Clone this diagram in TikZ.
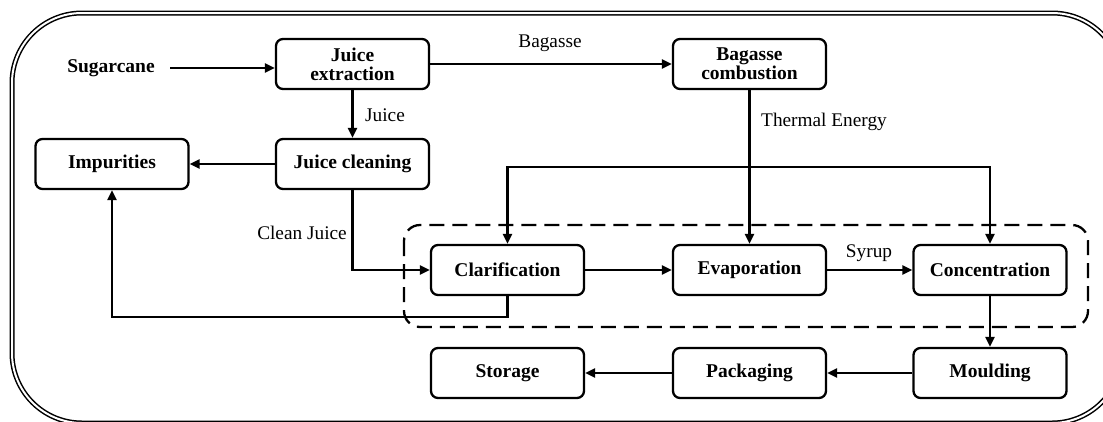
\documentclass[tikz,border=0pt]{standalone}
\usepackage{fontspec}
\setmainfont{Liberation Serif}
\usetikzlibrary{arrows.meta}
\begin{document}
\begin{tikzpicture}[x=1pt,y=-1pt,
  proc/.style={draw, line width=2.3pt, rounded corners=7pt, minimum width=153pt, minimum height=50pt,
    inner sep=1pt, align=center, font=\fontsize{19.5}{20}\selectfont\bfseries},
  lbl/.style={font=\fontsize{19.3}{20}\selectfont, inner sep=0pt},
  flow/.style={line width=2.3pt, -{Triangle[length=10pt,width=9pt]}}]
\useasboundingbox (0,0) rectangle (1103,421);
\begin{scope}
  \clip (0,0) rectangle (1103,421);
  \draw[line width=1.5pt, double distance=2pt, rounded corners=70pt] (12,13) rectangle (1122,423);
\end{scope}
% dashed group
\draw[line width=2.3pt, dash pattern=on 15pt off 8pt, rounded corners=16pt] (404,225) rectangle (1088,327);
% nodes
\node[font=\fontsize{19.5}{20}\selectfont\bfseries, inner sep=0pt] (sug) at (111,68) {Sugarcane};
\node[proc] (je) at (352.5,64) {Juice\\[-1pt]extraction};
\node[proc] (bc) at (749.5,64) {Bagasse\\[-1pt]combustion};
\node[proc] (imp) at (112,164) {Impurities};
\node[proc] (jc) at (352.5,164) {Juice cleaning};
\node[proc] (cla) at (507.5,270) {Clarification};
\node[proc] (eva) at (749.5,270) {Evaporation};
\node[proc] (con) at (990,270) {Concentration};
\node[proc] (mou) at (990,373) {Moulding};
\node[proc] (pac) at (749.5,373) {Packaging};
\node[proc] (sto) at (507.5,373) {Storage};
% labels
\node[lbl] (lbag) at (550,43) {Bagasse};
\node[lbl] (ljui) at (385,115) {Juice};
\node[lbl] (lcj) at (302,233) {Clean Juice};
\node[lbl] (lte) at (824,122) {Thermal Energy};
\node[lbl] (lsy) at (869,253) {Syrup};
% connectors
\coordinate (heat) at (749.5,167);
\coordinate (ret) at (112,317);
\coordinate (s0) at (170,68);
\draw[flow] (s0) -- (s0 -| je.west);
\draw[flow] (je.east) -- (bc.west);
\draw[flow] (je.south) -- (jc.north);
\draw[flow] (jc.west) -- (imp.east);
\draw[flow] (jc.south) |- (cla.west);
\draw[flow] (bc.south) -- (eva.north);
\draw[flow] (heat) -| (cla.north);
\draw[flow] (heat) -| (con.north);
\draw[flow] (cla.east) -- (eva.west);
\draw[flow] (eva.east) -- (con.west);
\draw[flow] (cla.south) |- (ret) -- (imp.south);
\draw[flow] (con.south) -- (mou.north);
\draw[flow] (mou.west) -- (pac.east);
\draw[flow] (pac.west) -- (sto.east);
\end{tikzpicture}
\end{document}
